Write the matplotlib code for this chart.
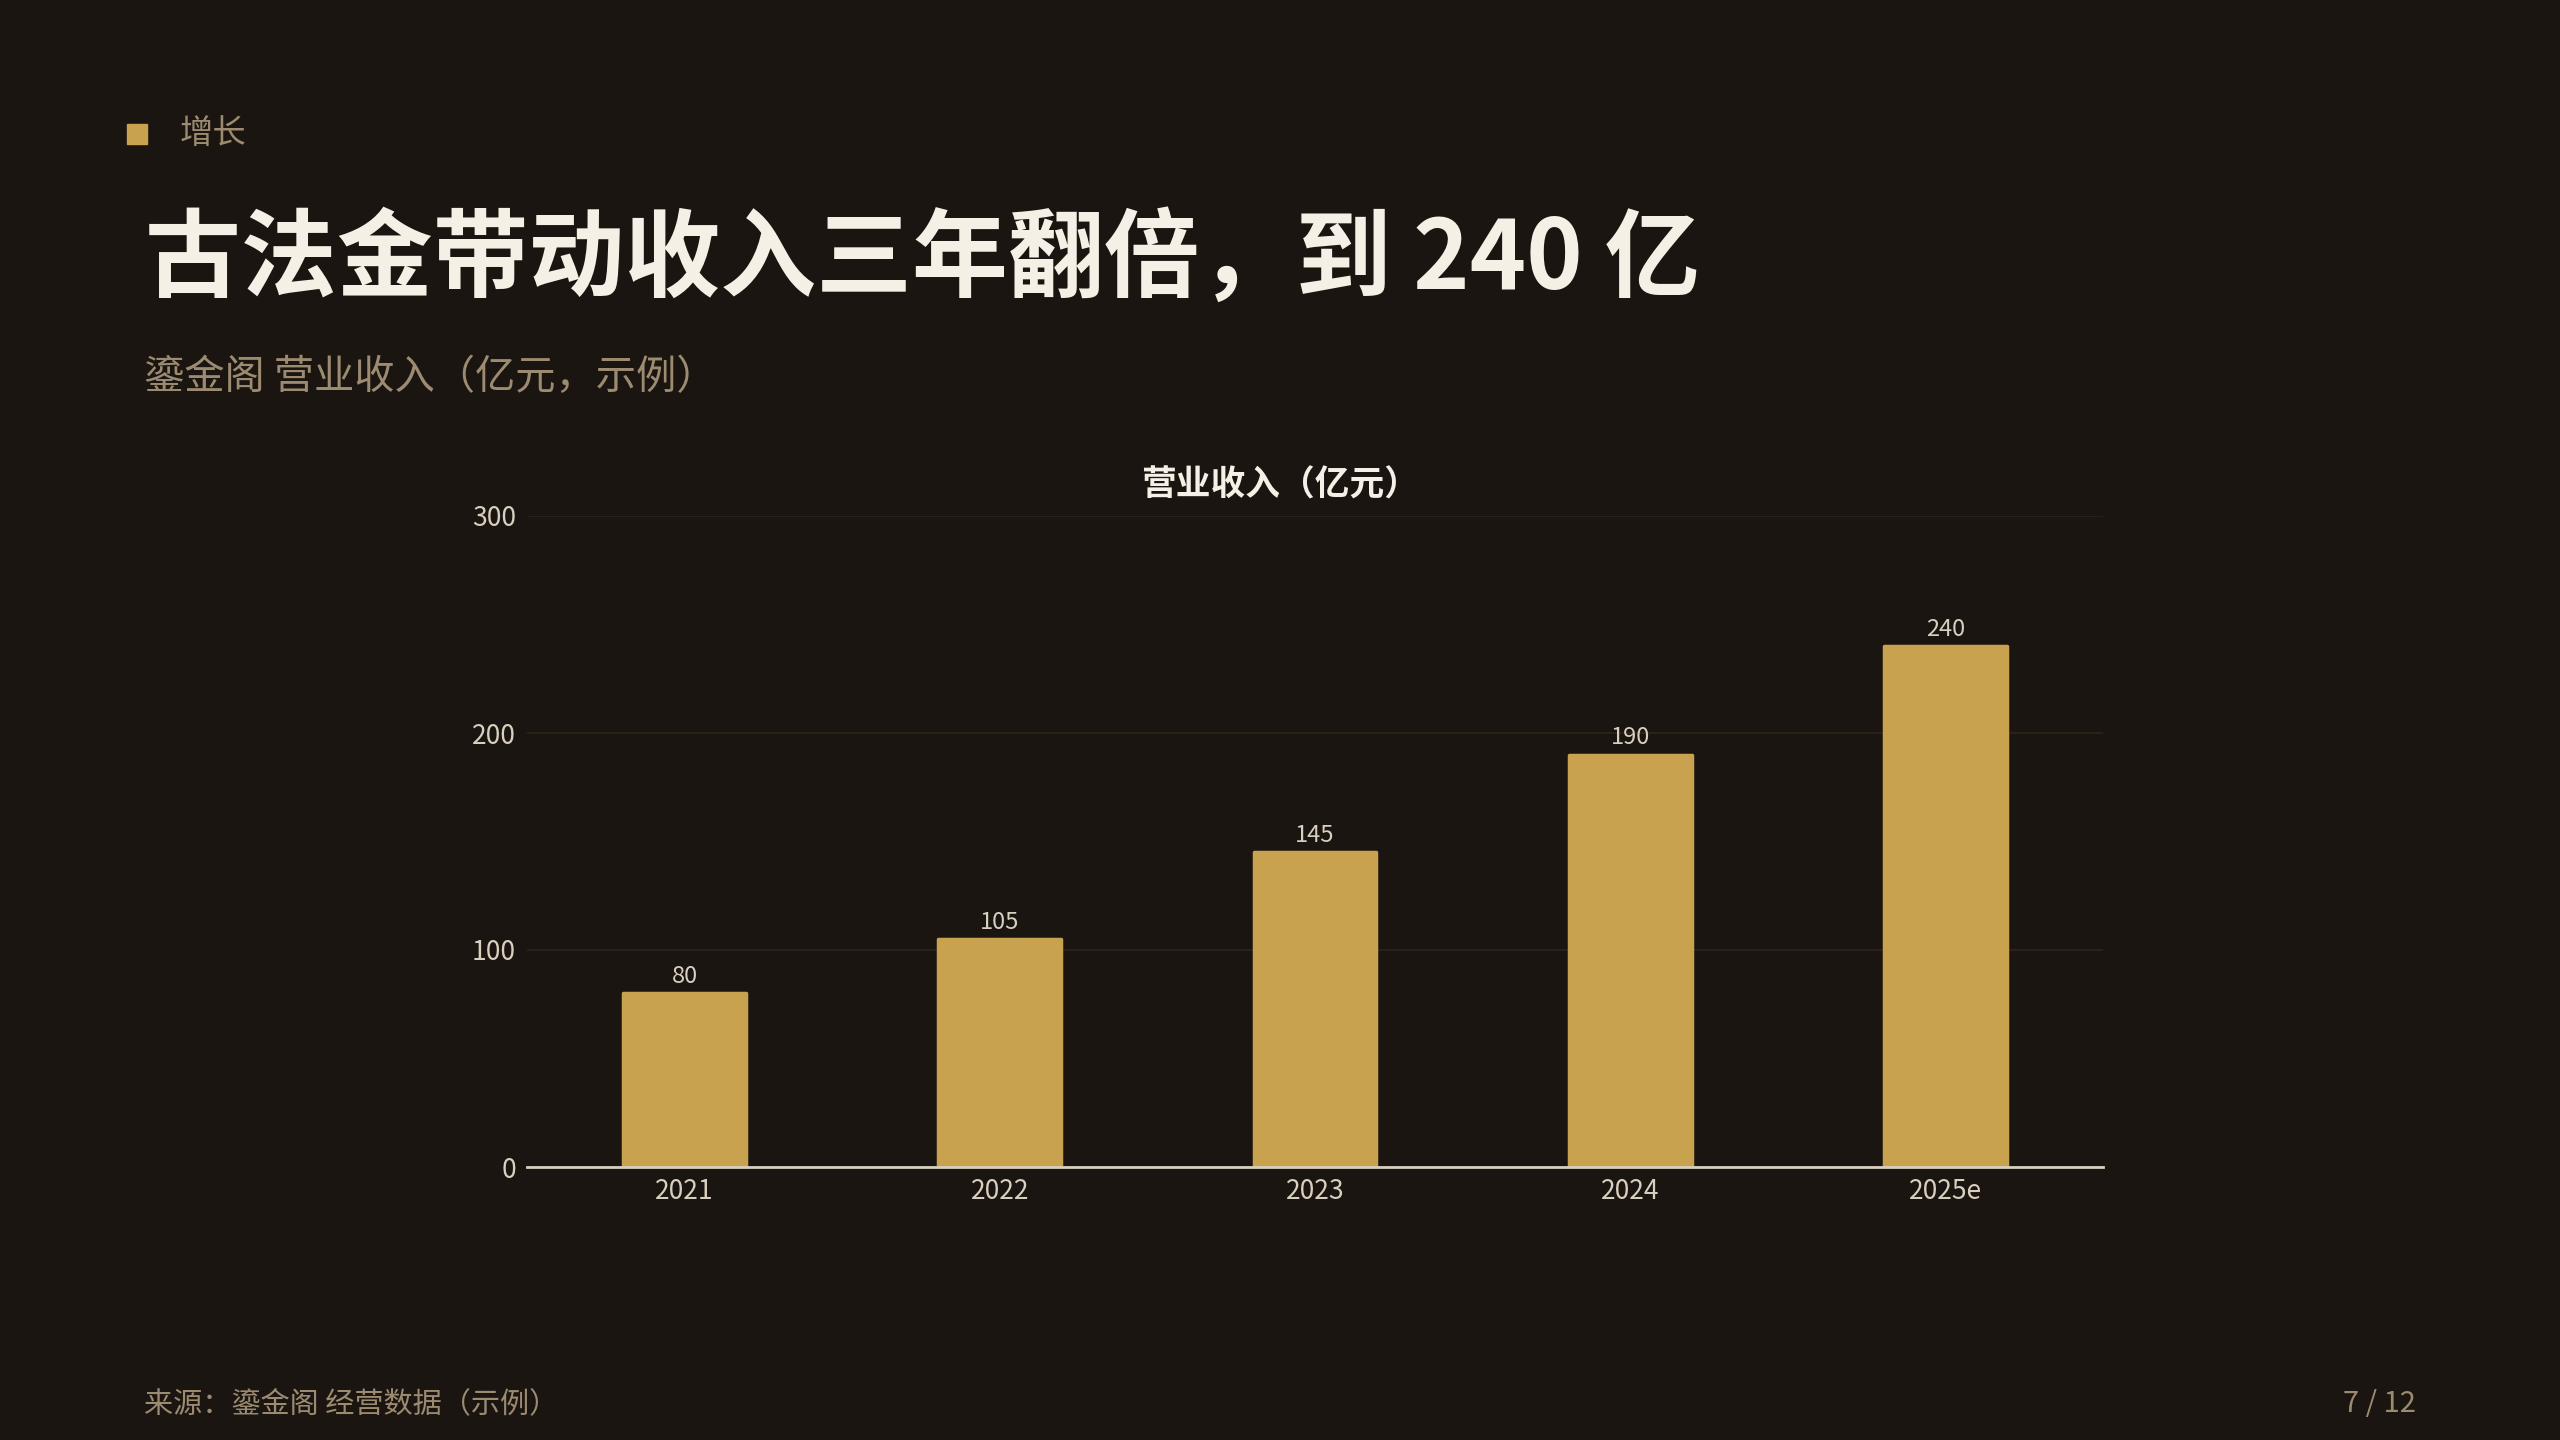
import matplotlib
matplotlib.use("Agg")
import matplotlib.pyplot as plt
from matplotlib.patches import Rectangle

plt.rcParams['font.family'] = ['Noto Sans CJK SC', 'DejaVu Sans']

categories = ["2021", "2022", "2023", "2024", "2025e"]
revenue = [80, 105, 145, 190, 240]
yticks = [0, 100, 200, 300]

BG = "#1A1510"
GOLD = "#C9A24F"
CREAM = "#F5F0E6"
MUTED = "#9C8B70"
TICK = "#D9CFBF"
GRID = "#2A2117"

fig = plt.figure(figsize=(25.6, 14.4), dpi=100, facecolor=BG)

# header marker
fig.patches.append(Rectangle((127/2560, 1-144/1440), 20/2560, 20/1440,
                             transform=fig.transFigure, color=GOLD, zorder=5))
fig.text(180/2560, 1-134/1440, "增长", color=MUTED, fontsize=24, va="center", ha="left")
fig.text(145/2560, 1-261/1440, "古法金带动收入三年翻倍，到 240 亿", color=CREAM,
         fontsize=69, fontweight="bold", va="center", ha="left")
fig.text(144/2560, 1-377/1440, "鎏金阁 营业收入（亿元，示例）", color=MUTED,
         fontsize=29, va="center", ha="left")
fig.text(144/2560, 1-1404/1440, "来源：鎏金阁 经营数据（示例）", color=MUTED,
         fontsize=21, va="center", ha="left")
fig.text(2416/2560, 1-1404/1440, "7 / 12", color=MUTED,
         fontsize=21, va="center", ha="right")
fig.text(1280/2560, 1-485/1440, "营业收入（亿元）", color=CREAM,
         fontsize=25, fontweight="bold", va="center", ha="center")

ax = fig.add_axes([527/2560, 1-1167/1440, (2103-527)/2560, (1167-516)/1440])
ax.set_facecolor(BG)
x = list(range(len(categories)))
bars = ax.bar(x, revenue, width=0.39, color=GOLD, edgecolor=GOLD, linewidth=2.5,
              zorder=3)
for b in bars:
    b.set_joinstyle("round")
for xi, v in zip(x, revenue):
    ax.annotate(str(v), (xi, v), xytext=(0, 4), textcoords="offset points",
                ha="center", va="bottom", color=TICK, fontsize=17)

ax.set_xlim(-0.5, len(categories) - 0.5)
ax.set_ylim(0, 300)
ax.set_yticks(yticks)
ax.set_yticklabels([str(t) for t in yticks])
ax.set_xticks(x)
ax.set_xticklabels(categories)
ax.tick_params(axis="both", length=0, colors=TICK, labelsize=19)
ax.tick_params(axis="x", pad=8)
ax.tick_params(axis="y", pad=8)
ax.grid(axis="y", color=GRID, linewidth=1.5, zorder=0)
for s in ["top", "right", "left"]:
    ax.spines[s].set_visible(False)
ax.spines["bottom"].set_color(TICK)
ax.spines["bottom"].set_linewidth(2)
ax.spines["bottom"].set_zorder(4)

fig.savefig("out.png", dpi=100, facecolor=BG)
